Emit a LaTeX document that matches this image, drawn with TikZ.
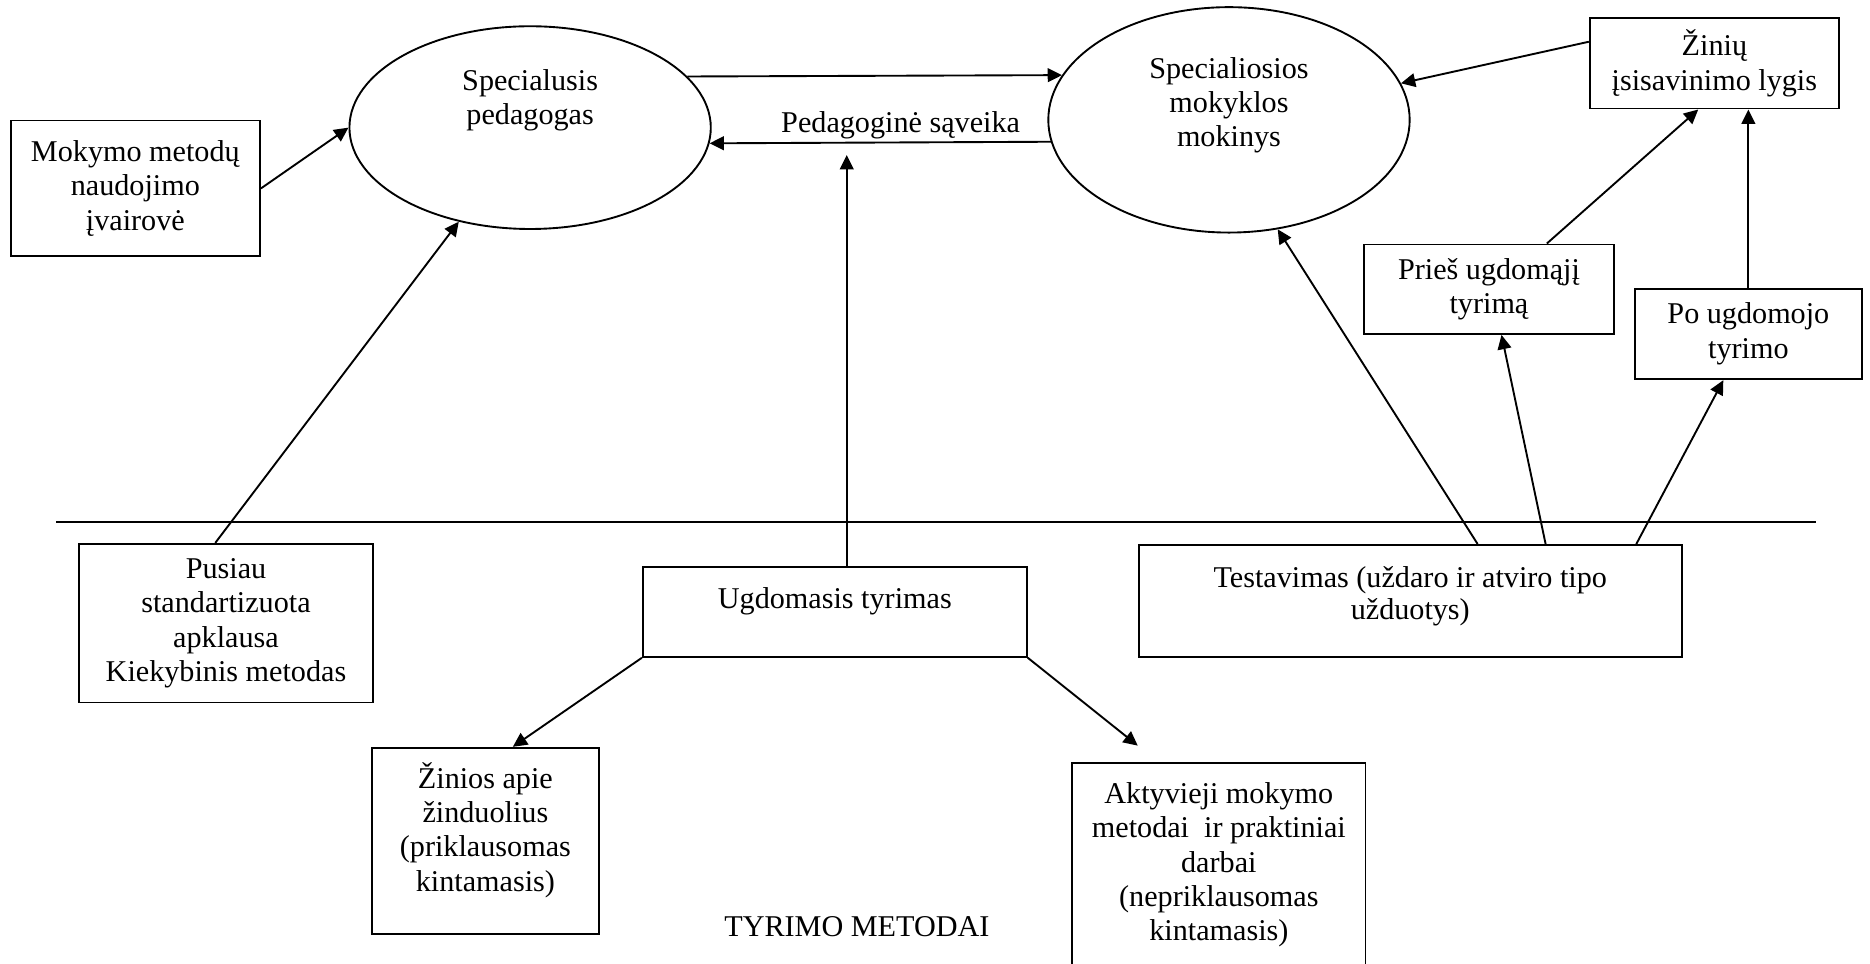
\documentclass[tikz,border=0pt]{standalone}
\usepackage{fontspec}
\setmainfont{Liberation Serif}
\usetikzlibrary{arrows.meta,shapes.geometric}
\tikzset{
  box/.style={draw, rectangle, inner sep=0pt, align=center},
  ell/.style={draw, ellipse, inner sep=0pt},
  arr/.style={-{Triangle[length=0.12cm,width=0.115cm]}},
  txt/.style={anchor=north, inner sep=0pt, align=center}
}
\begin{document}
\begin{tikzpicture}[x=1cm,y=-1cm,line width=0.45pt,font=\fontsize{7.2}{8.2}\selectfont]
\useasboundingbox (0,0) rectangle (15.68,8.08);
% top row
\node[box, minimum width=2.09cm, minimum height=1.14cm] (mok) at (1.135,1.58) {Mokymo metodų\\naudojimo\\įvairovė};
\node[ell, minimum width=3.03cm, minimum height=1.70cm,
  label={[txt,yshift=-0.36cm]north:{Specialusis\\pedagogas}}] (ped) at (4.445,1.07) {};
\node[ell, minimum width=3.03cm, minimum height=1.89cm,
  label={[txt,yshift=-0.42cm]north:{Specialiosios\\mokyklos\\mokinys}}] (stu) at (10.305,1.005) {};
\node[box, minimum width=2.09cm, minimum height=0.76cm] (ziv) at (14.375,0.53) {Žinių\\įsisavinimo lygis};
\node[box, minimum width=2.09cm, minimum height=0.75cm] (pri) at (12.485,2.425) {Prieš ugdomąjį\\tyrimą};
\node[box, minimum width=1.90cm, minimum height=0.76cm] (po) at (14.66,2.80) {Po ugdomojo\\tyrimo};
\coordinate (sav) at (7.10,1.30);
% dividing line
\draw (0.47,4.375) -- (15.23,4.375);
% methods
\node[box, minimum width=2.47cm, minimum height=1.33cm] (pus) at (1.895,5.225) {Pusiau\\standartizuota\\apklausa\\Kiekybinis metodas};
\node[box, minimum width=3.22cm, minimum height=0.755cm,
  label={[txt,yshift=-0.17cm]north:Ugdomasis tyrimas}] (ugd) at (7.00,5.13) {};
\node[box, minimum width=4.55cm, minimum height=0.94cm,
  label={[txt,yshift=-0.18cm,font=\fontsize{7.2}{7.6}\selectfont]north:{Testavimas (uždaro ir atviro tipo\\užduotys)}}] (tst) at (11.825,5.04) {};
\node[box, minimum width=1.90cm, minimum height=1.56cm,
  label={[txt,yshift=-0.12cm]north:{Žinios apie\\žinduolius\\(priklausomas\\kintamasis)}}] (zin) at (4.07,7.05) {};
\node[box, minimum width=2.46cm, minimum height=1.75cm,
  label={[txt,yshift=-0.16cm]north:{Aktyvieji mokymo\\metodai\ \ ir praktiniai\\darbai\\(nepriklausomas\\kintamasis)}}] (akt) at (10.22,7.275) {};
\node (tyr) at (7.185,7.77) {TYRIMO METODAI};
% arrows
\draw[arr] (mok.east) -- (ped.west);
\draw[arr] (ped.18) -- (stu.165);
\draw[arr] (stu.187.5) -- node[pos=0.44, above, inner sep=0.5pt] {Pedagoginė sąveika} (ped.355);
\draw[arr] ([yshift=0.18cm]ziv.west) -- (stu.12);
\draw[arr] (sav |- ugd.north) -- (sav);
\draw[arr] ([xshift=-0.09cm]pus.north) -- (ped);
\draw[arr] ([xshift=0.565cm]tst.north) -- (stu.294);
\draw[arr] ([xshift=1.135cm]tst.north) -- ([xshift=0.105cm]pri.south);
\draw[arr] ([xshift=1.895cm]tst.north) -- ([xshift=-0.21cm]po.south);
\draw[arr] ([xshift=0.485cm]pri.north) -- ([xshift=-0.135cm]ziv.south);
\draw[arr] (po.north) -- (po.north |- ziv.south);
\draw[arr] (ugd.south west) -- ([xshift=0.23cm]zin.north);
\draw[arr] (ugd.south east) -- ([xshift=-0.68cm,yshift=0.14cm]akt.north);
\end{tikzpicture}
\end{document}
